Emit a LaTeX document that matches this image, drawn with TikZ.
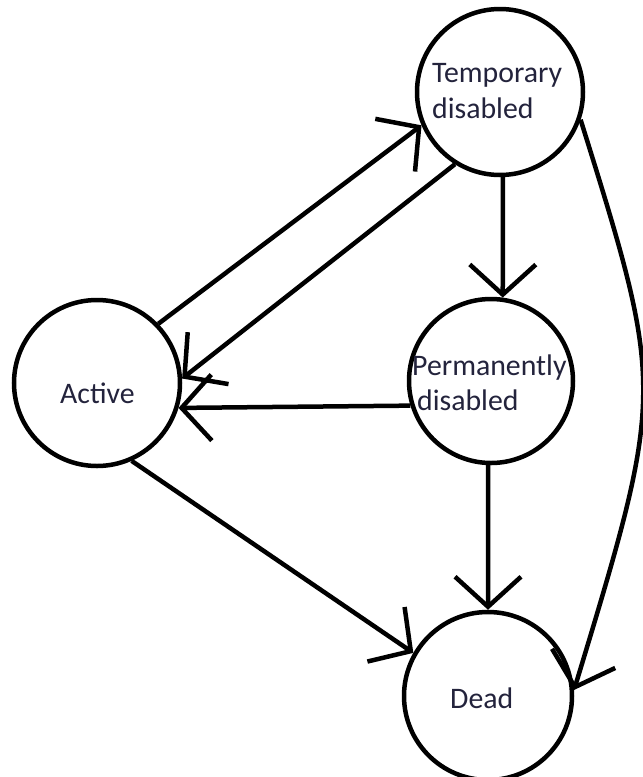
\documentclass[tikz,border=0pt]{standalone}
\usepackage{fontspec}
\setmainfont{Carlito}
\usetikzlibrary{arrows.meta}
\definecolor{txt}{RGB}{35,35,60}
\begin{document}
\begin{tikzpicture}[x=1pt,y=-1pt,
  state/.style={circle,draw,line width=4.5pt,inner sep=0pt,minimum size=#1},
  lbl/.style={anchor=base west,inner sep=0pt,text=txt,font=\fontsize{29.8}{36}\selectfont},
  conn/.style={line width=4.5pt,-{Straight Barb[length=30pt,width=66pt]}}]
\useasboundingbox (0,0) rectangle (643,777);
\fill[white] (0,0) rectangle (643,777);
% states
\node[state=166pt] (tmp) at (500,92) {};
\node[state=164pt] (perm) at (491,381) {};
\node[state=166pt] (act) at (97,383) {};
\node[state=168pt] (dead) at (488,696) {};
% labels
\node[lbl] (tmp1) at (432,82) {Temporary};
\node[lbl] (tmp2) at (432,118) {disabled};
\node[lbl] (perm1) at (412,375) {Permanently};
\node[lbl] (perm2) at (417,410) {disabled};
\node[lbl] (actl) at (60,403) {Active};
\node[lbl] (deadl) at (450,708) {Dead};
% connectors
\draw[conn] (act.44) -- (tmp.203);
\draw[conn] (tmp.238) -- (act.3);
\draw[conn] (perm.197) -- (act.343);
\draw[conn] (tmp.-88) -- (perm.82);
\draw[conn] (perm.-92) -- (dead.90);
\draw[conn] (act.-66) -- (dead.150);
\draw[conn] (tmp.-19) .. controls (665,390) .. (dead.4);
\end{tikzpicture}
\end{document}
